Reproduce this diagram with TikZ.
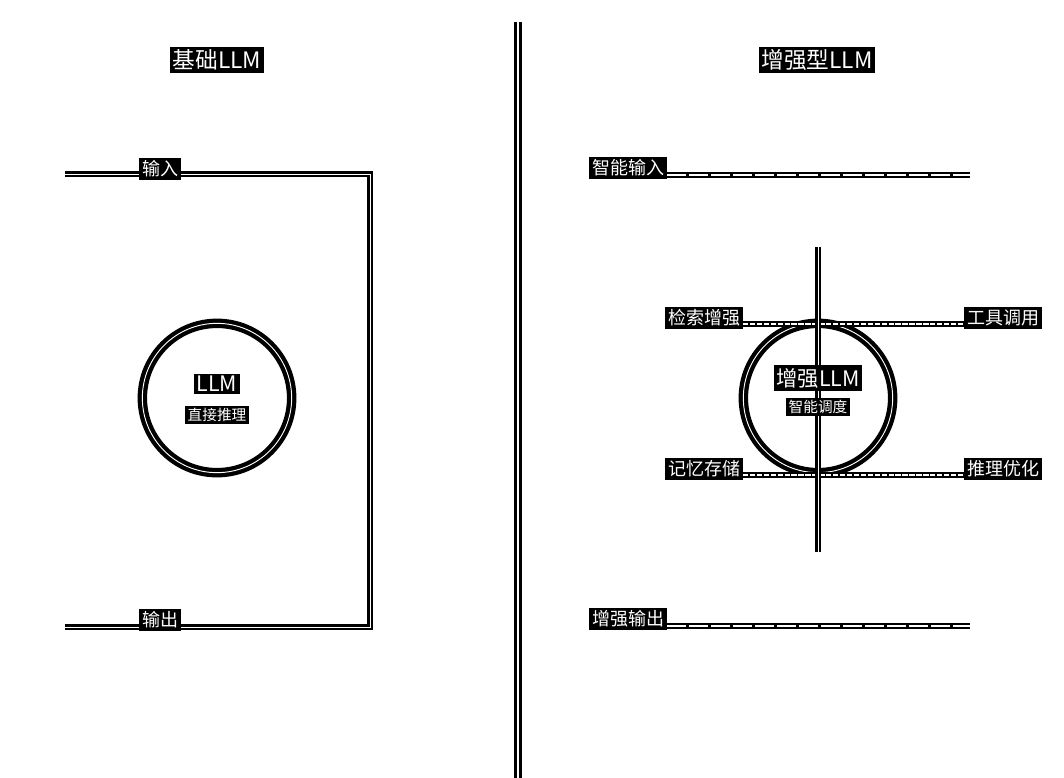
\documentclass[tikz,border=0pt]{standalone}
\usepackage{fontspec}
\setmainfont{Noto Sans CJK SC}
\usepackage{tikz}
\usetikzlibrary{positioning}

\begin{document}
\begin{tikzpicture}[x=0.75pt,y=-0.75pt,
  lbl/.style={fill=black,text=white,inner sep=2pt,font=\fontsize{13.5}{15}\selectfont},
  ttl/.style={lbl,font=\fontsize{17}{20}\selectfont},
  big/.style={lbl,font=\fontsize{16}{18}\selectfont},
  small/.style={lbl,inner sep=1.8pt,font=\fontsize{11}{13}\selectfont},
  wire/.style={draw=black,line width=2.2pt,double=white,double distance=0.55pt},
  dwire/.style={draw=black,line width=4pt,postaction={draw=white,line width=0.8pt,dash pattern=on 14pt off 2.5pt}},
  ddwire/.style={draw=black,line width=4pt,postaction={draw=white,line width=0.8pt,dash pattern=on 4pt off 1.2pt}},
  ring/.style={circle,draw=black,line width=3.2pt,double=white,double distance=0.7pt,minimum size=112pt}]
\useasboundingbox (0,0) rectangle (1064,778);
% divider
\coordinate (divTop) at (518,22);\coordinate (divBot) at (518,778);
\draw[draw=black,line width=2.5pt,double=white,double distance=1pt] (divTop)--(divBot);
% basic LLM
\node[ttl] (baseTitle) at (217,60) {基础LLM};
\coordinate (inStart) at (65,174);\coordinate (cornerA) at (370,174);
\coordinate (cornerB) at (370,627);\coordinate (outStart) at (65,627);
\draw[wire] (inStart)--(cornerA)--(cornerB)--(outStart);
\node[lbl] (baseIn) at (160,169) {输入};
\node[lbl] (baseOut) at (160,620) {输出};
\node[ring] (baseLLM) at (217,398) {};
\node[big] (baseName) at (217,384) {LLM};
\node[small,below=8pt of baseName] (baseSub) {直接推理};
% enhanced LLM
\node[ring] (augLLM) at (818,398) {};
\node[ttl] (augTitle) at (817,60) {增强型LLM};
\coordinate (vTop) at (818,247);\coordinate (vBot) at (818,552);
\node[lbl] (smartIn) at (628,168) {智能输入};\coordinate (smartInEnd) at (970,175);
\node[lbl] (augOut) at (628,619) {增强输出};\coordinate (augOutEnd) at (970,626);
\node[lbl] (retr) at (704,318) {检索增强};
\node[lbl] (tool) at (1003,318) {工具调用};
\node[lbl] (mem) at (704,469) {记忆存储};
\node[lbl] (reason) at (1003,469) {推理优化};
\draw[dwire] (smartIn.east|-smartInEnd)--(smartInEnd);
\draw[dwire] (augOut.east|-augOutEnd)--(augOutEnd);
\draw[ddwire] ([yshift=-4.5]retr.east)--([yshift=-4.5]tool.west);
\draw[ddwire] ([yshift=-4.5]mem.east)--([yshift=-4.5]reason.west);
\draw[wire] (vTop)--(vBot);
\node[big] (augName) at (818,378) {增强LLM};
\node[small,below=5pt of augName] (augSub) {智能调度};
\end{tikzpicture}
\end{document}
